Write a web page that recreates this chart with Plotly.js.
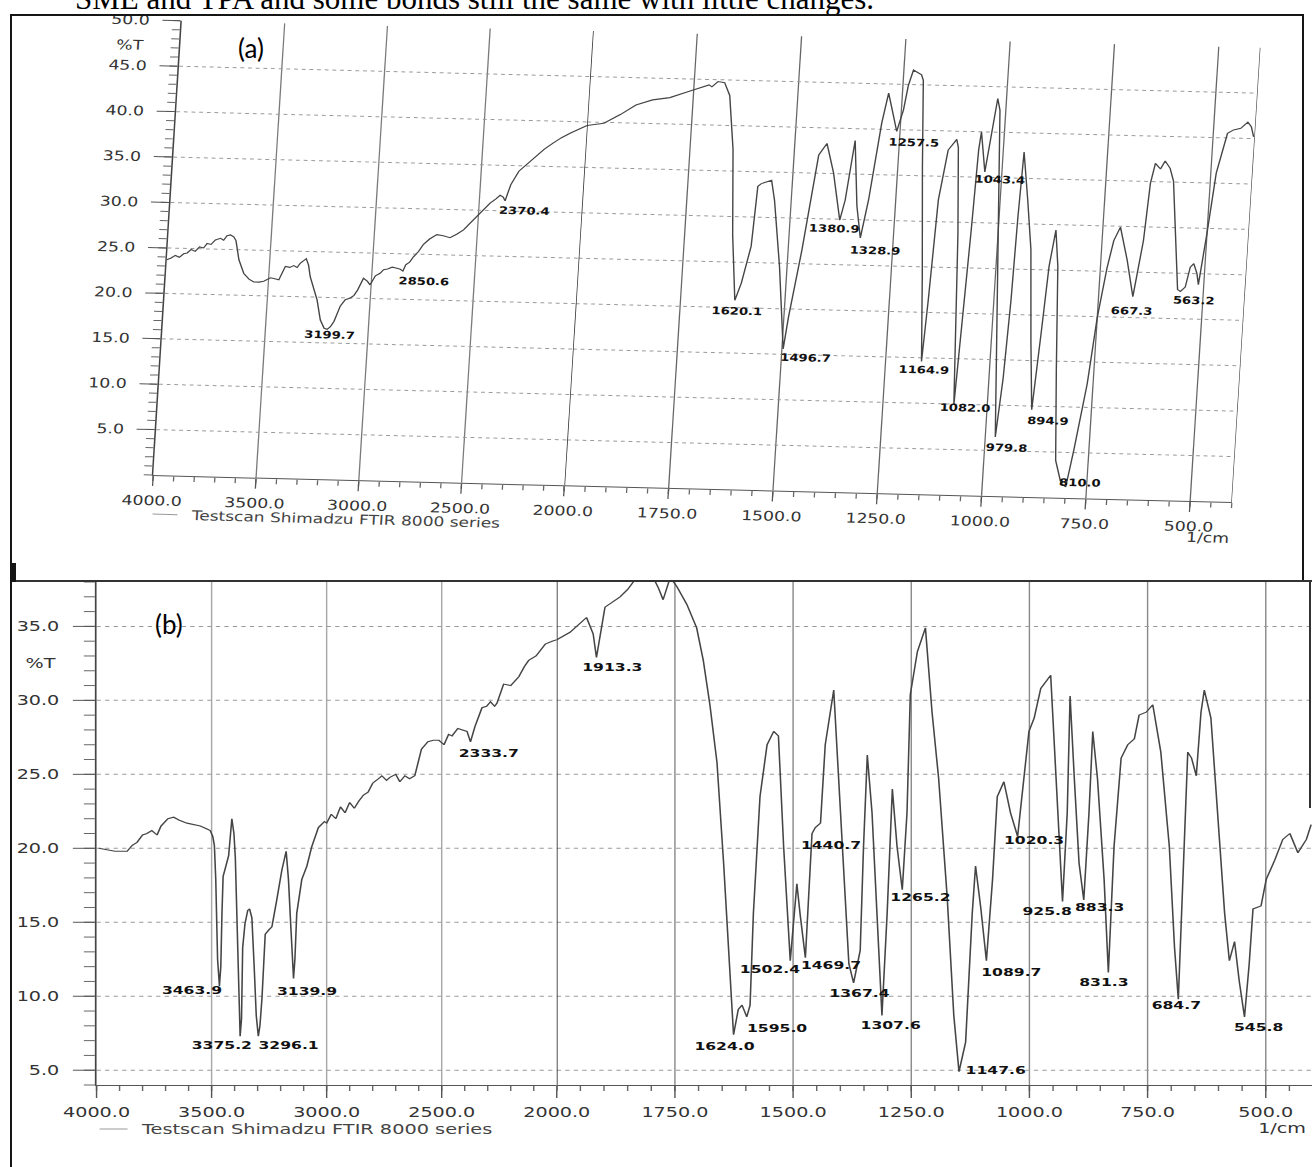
<!DOCTYPE html>
<html>
<head>
<meta charset="utf-8">
<script src="https://cdn.plot.ly/plotly-3.0.1.min.js"></script>
<style>
html,body{margin:0;padding:0;background:#fff;width:1312px;height:1167px;overflow:hidden;position:relative;}
.abs{position:absolute;}
#pa{position:absolute;left:0;top:0;transform-origin:0 0;}
#pb{position:absolute;left:0;top:582px;transform-origin:0 0;}
#pa .crisp, #pb .crisp, #pa path, #pb path{shape-rendering:geometricPrecision !important;}
.rule{position:absolute;background:#151515;}
.tag{position:absolute;font-family:Lato,'Open Sans',sans-serif;font-size:26px;color:#000;line-height:30px;white-space:nowrap;}
</style>
</head>
<body>
<div class="abs" style="left:75px;top:-16px;font-family:'Liberation Serif',serif;font-size:31px;line-height:30px;white-space:nowrap;color:#000;">SME and TPA and some bonds still the same with little changes.</div>
<div id="pa"></div>
<div id="pb"></div>
<div class="rule" style="left:10px;top:14px;width:2px;height:1153px;"></div>
<div class="rule" style="left:10px;top:14px;width:1294px;height:2px;"></div>
<div class="rule" style="left:1302px;top:14px;width:2px;height:568px;"></div>
<div class="rule" style="left:10px;top:580px;width:1302px;height:2px;background:#333;"></div>
<div class="rule" style="left:10px;top:563px;width:6px;height:19px;"></div>
<div class="rule" style="left:1309px;top:582px;width:2px;height:226px;background:#333;"></div>
<div class="tag" style="left:238px;top:33px;">(a)</div>
<div class="tag" style="left:155px;top:609px;">(b)</div>
<script>
// ---------------- data: panel (a) ----------------
const aHighWn = [4000,3980,3960,3940,3920,3903,3885,3865,3845,3825,3809,3790,3770,3746,3730,3715,3698,3682,3670,3650,3622,3595,3571,3545,3523,3491,3470,3450,3435,3422,3400,3382,3365,3350,3323,3310,3298,3278,3258,3236,3215,3200,3185,3169,3143,3121,3097,3080,3064,3039,3020,3005,2982,2960,2944,2925,2903,2880,2863,2850,2838,2820,2803,2780,2758,2730,2696,2665,2631,2600,2568,2540,2508,2475,2447,2420,2401,2385,2375,2365,2352,2317,2280,2235,2200,2158,2120,2080,2040,2000];
const aHighT  = [23.7,23.9,24.2,24.0,24.4,24.5,24.9,24.7,25.2,25.1,25.6,25.5,26.0,26.2,26.0,26.5,26.6,26.4,26.0,23.9,22.4,21.8,21.5,21.5,21.6,22.0,21.9,21.8,22.6,23.3,23.2,23.4,23.2,23.7,24.2,23.5,22.2,20.8,19.7,17.5,16.6,16.5,16.8,17.4,19.1,19.8,20.0,20.3,20.9,22.2,21.9,21.5,22.5,22.8,23.2,23.3,23.5,23.4,23.3,23.1,23.8,24.1,24.7,25.3,26.1,26.7,27.2,27.1,26.9,27.3,27.8,28.5,29.3,30.1,30.8,31.3,31.7,31.5,31.1,31.9,32.9,34.4,35.2,36.1,36.9,37.6,38.2,38.7,39.2,39.6];
const aLowWn = [2000,1960,1922,1886,1847,1806,1764,1740,1714,1707,1693,1677,1663,1647,1635,1620,1607,1589,1582,1574,1559,1550,1540,1518,1497,1489,1467,1451,1441,1423,1403,1381,1371,1356,1342,1329,1315,1295,1283,1268,1258,1245,1237,1227,1207,1202,1191,1175,1164,1157,1148,1132,1113,1108,1096,1080,1073,1065,1059,1055,1041,1031,1021,1014,999,985,976,966,959,955,950,934,919,905,893,882,873,862,852,840,828,812,800,786,764,750,734,722,708,687,668,651,643,634,621,611,598,588,576,562,555,544,535,527,518,513,500,487,466,452,435,419,410,403];
const aLowT  = [39.6,39.9,40.9,42.0,42.6,42.9,43.6,44.0,44.4,44.2,44.8,44.7,43.3,37.4,28.0,20.8,22.7,26.8,33.4,33.7,33.9,34.1,31.9,24.6,15.6,19.1,26.5,32.8,37.0,38.3,35.1,29.9,32.1,38.7,31.5,28.0,32.2,40.7,44.0,41.5,39.8,42.2,44.9,46.6,46.1,45.5,35.9,24.0,14.6,21.4,32.4,37.9,39.1,38.2,28.7,9.9,17.8,28.9,38.0,40.0,35.6,40.0,43.7,42.4,28.9,15.0,6.5,13.0,21.6,30.8,37.9,32.6,27.2,17.0,9.6,18.0,25.4,29.4,25.4,14.0,4.1,1.6,1.2,5.3,12.6,19.9,25.4,28.4,29.9,26.3,22.3,28.5,34.8,37.0,36.4,37.3,36.5,35.1,29.3,23.2,23.0,23.5,25.7,26.1,25.0,23.8,29.5,36.1,40.5,40.9,41.1,41.8,41.3,40.2];
const aPeakText = ['3199.7','2850.6','2370.4','1620.1','1496.7','1380.9','1328.9','1257.5','1164.9','1082.0','1043.4','979.8','894.9','810.0','667.3','563.2'];
const aPeakX = [3183,2743,2280,1612,1442,1391,1291,1214,1156,1052,1002,947,852,766,668,522];
const aPeakY = [15.9,22.1,30.1,19.7,14.7,29.0,26.7,38.7,13.7,9.7,34.8,5.4,8.5,1.8,20.8,22.1];
const aTickHigh = [4000,3500,3000,2500,2000];
const aTickLow = [1750,1500,1250,1000,750,500];
const aTickY = [5,10,15,20,25,30,35,40,45,50];

// ---------------- data: panel (b) ----------------
const bHighWn = [3990,3950,3920,3867,3845,3824,3800,3781,3760,3737,3720,3708,3690,3665,3640,3607,3575,3549,3520,3506,3495,3488,3482,3474,3466,3460,3455,3450,3438,3426,3412,3403,3397,3388,3382,3376,3370,3365,3355,3343,3335,3325,3315,3306,3297,3290,3281,3272,3267,3250,3238,3217,3195,3176,3166,3155,3144,3138,3130,3108,3086,3065,3050,3036,3010,3000,2980,2960,2940,2920,2900,2880,2860,2840,2820,2800,2783,2760,2740,2725,2700,2682,2660,2640,2617,2600,2588,2560,2537,2512,2490,2470,2455,2430,2411,2390,2375,2356,2325,2305,2288,2270,2260,2231,2200,2165,2140,2122,2090,2050,2020,2000];
const bHighT  = [20.0,19.9,19.8,19.8,20.2,20.4,20.9,21.0,21.2,20.9,21.5,21.7,22.0,22.1,21.9,21.7,21.6,21.5,21.3,21.2,20.8,20.2,17.9,12.5,10.7,12.0,15.6,18.1,18.8,19.5,22.0,21.0,19.4,15.0,11.0,7.3,8.5,13.3,14.9,15.8,15.9,15.3,12.0,8.7,7.3,8.0,9.9,13.3,14.2,14.5,14.7,16.5,18.5,19.8,17.9,14.5,11.2,12.5,15.6,17.9,18.8,20.1,20.8,21.4,21.8,21.7,22.3,22.0,22.8,22.4,23.1,22.7,23.2,23.6,23.8,24.4,24.6,24.9,24.6,24.8,25.0,24.5,24.9,24.7,24.9,26.0,26.7,27.2,27.3,27.3,27.0,27.7,27.6,28.1,28.0,27.9,27.2,28.2,29.5,29.6,29.9,29.6,29.8,31.1,31.0,31.6,32.3,32.7,33.0,33.8,34.0,34.1];
const bLowWn = [2000,1972,1937,1923,1916,1905,1898,1866,1850,1831,1815,1796,1785,1775,1760,1746,1725,1704,1690,1676,1661,1647,1637,1626,1616,1608,1598,1591,1584,1570,1555,1541,1531,1520,1506,1499,1492,1485,1474,1460,1453,1442,1432,1414,1404,1382,1372,1358,1351,1343,1333,1319,1312,1301,1290,1280,1269,1259,1252,1237,1220,1206,1192,1174,1160,1149,1135,1121,1114,1103,1091,1078,1068,1054,1040,1025,1011,1001,990,976,955,948,937,930,920,914,905,895,885,874,866,856,842,833,821,806,792,778,768,753,739,722,704,693,685,676,665,657,647,637,630,616,601,587,577,566,556,545,535,527,510,499,481,464,449,432,414,404];
const bLowT  = [34.1,34.6,35.6,34.5,32.9,34.9,36.3,37.0,37.5,38.3,38.5,38.3,37.6,36.8,38.3,37.7,36.5,34.9,32.7,29.7,25.8,19.0,13.3,7.4,9.1,9.4,8.6,9.4,15.6,23.5,27.0,27.9,27.6,20.1,12.4,15.0,17.6,15.5,12.6,21.0,21.4,21.7,27.0,30.7,24.7,12.2,10.9,13.1,20.1,26.3,22.4,13.3,8.7,15.6,24.0,20.1,17.2,22.4,30.4,33.3,34.9,29.2,24.7,16.7,8.7,4.9,6.9,15.6,18.8,16.0,12.4,17.9,23.5,24.5,22.4,20.8,24.7,27.9,28.8,30.8,31.7,27.0,20.1,16.4,22.4,30.3,24.7,19.0,16.5,22.4,27.9,24.7,17.9,11.6,20.1,26.1,27.0,27.4,29.0,29.2,29.7,26.5,20.1,13.3,9.8,17.9,26.5,26.1,24.9,29.2,30.7,28.8,22.4,15.6,12.4,13.7,11.0,8.6,12.2,15.9,16.1,17.9,19.2,20.6,21.0,19.7,20.6,21.6];
const bPeakText = ['3463.9','3375.2','3296.1','3139.9','2333.7','1913.3','1624.0','1595.0','1502.4','1469.7','1440.7','1367.4','1307.6','1265.2','1147.6','1089.7','1020.3','925.8','883.3','831.3','684.7','545.8'];
const bPeakX = [3586,3458,3167,3089,2296,1883,1644,1534,1548,1419,1419,1360,1292,1230,1069,1040,991,961,851,842,688,516];
const bPeakY = [10.4,6.7,6.7,10.3,26.4,32.2,6.6,7.8,11.8,12.1,20.2,10.2,8.0,16.7,5.0,11.6,20.5,15.7,16.0,10.9,9.4,7.9];
const bTickHigh = [4000,3500,3000,2500,2000];
const bTickLow = [1750,1500,1250,1000,750,500];
const bTickY = [5,10,15,20,25,30,35];

const seriesName = 'Testscan Shimadzu FTIR 8000 series';
const unitText = '1/cm';
const yUnitText = '%T';

// ---------------- styling helpers ----------------
const FONT = 'DejaVu Sans';
const LINE = {color:'#454545', width:1.1};
const YGRID = {showgrid:true, gridcolor:'#9a9a9a', gridwidth:1, griddash:'dot'};

function trace(x, y, xa, ya){
  return {x:x, y:y, xaxis:xa, yaxis:ya, type:'scatter', mode:'lines', line:LINE, hoverinfo:'skip', showlegend:false};
}
function xAxis(domain, range, tickvals, minorStep, o, gridcolor){
  return {domain:domain, range:range, anchor:'y', tickmode:'array', tickvals:tickvals, tickformat:'.1f',
    ticks:'outside', ticklen:o.len, tickwidth:1, tickcolor:'#555', ticklabelstandoff:o.standoff,
    tickfont:{family:FONT, size:o.size, color:'#333'},
    showgrid:true, gridcolor:gridcolor, gridwidth:o.grid, zeroline:false,
    showline:true, linecolor:'#555', linewidth:1,
    minor:{tickmode:'linear', tick0:0, dtick:minorStep, ticks:'outside', ticklen:5, tickwidth:1, tickcolor:'#666', showgrid:false}};
}
// main y axis: line, grid, major + minor tick marks
function yAxis(range, tickvals, s, o){
  return Object.assign({domain:[0,1], range:range, anchor:'x', tickmode:'array', tickvals:tickvals, showticklabels:false,
    ticks:'outside', ticklen:o.len/s, tickwidth:1, tickcolor:'#555', zeroline:false,
    showline:true, linecolor:'#444', linewidth:1.2,
    minor:{tickmode:'linear', tick0:0, dtick:1, ticks:'outside', ticklen:o.minor/s, tickwidth:1, tickcolor:'#666', showgrid:false}}, YGRID);
}
// companion y axis (same scale, carries the 4000-2000 trace) holding the tick labels a little further out
function yLabelAxis(range, tickvals, s, o){
  return Object.assign({domain:[0,1], range:range, matches:'y', anchor:'x', overlaying:'y', side:'left', tickmode:'array', tickvals:tickvals, tickformat:'.1f',
    ticks:'outside', ticklen:o.labelGap/s, tickwidth:1, tickcolor:'rgba(0,0,0,0)',
    tickfont:{family:FONT, size:o.size, color:'#333'},
    zeroline:false, showline:false}, YGRID);
}
function peakAnns(texts, xs, ys, size){
  return texts.map((t,i)=>({text:'<b>'+t+'</b>', x:xs[i], y:ys[i], xref: xs[i] >= 2000 ? 'x' : 'x2', yref:'y',
    showarrow:false, xanchor:'center', yanchor:'middle', font:{family:FONT, size:size, color:'#111'}}));
}
function frameShapes(legY, legX0, legX1){
  return [
    {type:'line', xref:'x2', x0:2000, x1:2000, yref:'paper', y0:0, y1:1, line:{color:'#333', width:1.2}},
    {type:'line', xref:'x2', x0:400, x1:400, yref:'paper', y0:0, y1:1, line:{color:'#444', width:1}},
    {type:'line', xref:'paper', x0:legX0, x1:legX1, yref:'paper', y0:legY, y1:legY, line:{color:'#999', width:1}}
  ];
}

// ---------------- panel (a): scanned page is slightly rotated / sheared ----------------
const SA = 1.28;                // horizontal stretch of the scan
const A_L = 153, A_R = 1234, A_T = 20, A_B = 475, A_H = 540, A_X2000 = 565;
const fa = (A_X2000 - A_L) / (A_R - A_L);
const xoA = {len:10, standoff:3, size:13.5, grid:1};
const yoA = {len:18, minor:8, labelGap:27.5, size:13.5};
const layoutA = {
  width: 1312/SA, height: A_H,
  margin:{l:A_L/SA, r:(1312-A_R)/SA, t:A_T, b:A_H-A_B, pad:0},
  paper_bgcolor:'rgba(0,0,0,0)', plot_bgcolor:'rgba(0,0,0,0)',
  showlegend:false,
  xaxis: xAxis([0,fa], [4000,2000], aTickHigh, 100, xoA, '#7a7a7a'),
  xaxis2: xAxis([fa,1], [2000,400], aTickLow, 50, xoA, '#666'),
  yaxis: yAxis([0,50], aTickY, SA, yoA),
  yaxis2: yLabelAxis([0,50], aTickY, SA, yoA),
  shapes: frameShapes(-(514-A_B)/(A_B-A_T), 0.0016, 0.0247),
  annotations: peakAnns(aPeakText, aPeakX, aPeakY, 10.3).concat([
    {text:yUnitText, xref:'paper', x:-0.0303, yref:'y', y:47.2, xanchor:'right', yanchor:'middle', showarrow:false, font:{family:FONT, size:13.5, color:'#333'}},
    {text:seriesName, xref:'paper', x:0.034, yref:'paper', y:-(514-A_B)/(A_B-A_T), xanchor:'left', yanchor:'middle', showarrow:false, font:{family:FONT, size:13.3, color:'#444'}},
    {text:unitText, xref:'paper', x:1.0019, yref:'paper', y:-(511-A_B)/(A_B-A_T), xanchor:'right', yanchor:'middle', showarrow:false, font:{family:FONT, size:13.5, color:'#333'}}
  ])
};
Plotly.newPlot('pa', [trace(aHighWn, aHighT, 'x', 'y2'), trace(aLowWn, aLowT, 'x2', 'y')], layoutA, {staticPlot:true, displayModeBar:false});
document.getElementById('pa').style.transform = 'matrix(' + [0.9984*SA, 0.02496*SA, -0.0629, 0.9984, 29.8, -3.0].join(',') + ')';

// ---------------- panel (b) ----------------
const SB = 1.42;
const B_L = 97, B_R = 1312, B_T = 0, B_B = 503, B_H = 585, B_X2000 = 557;
const fb = (B_X2000 - B_L) / (B_R - B_L);
const xoB = {len:12, standoff:3, size:13.5, grid:1};
const yoB = {len:22, minor:11, labelGap:32, size:13.5};
const layoutB = {
  width: 1312/SB, height: B_H,
  margin:{l:B_L/SB, r:0, t:B_T, b:B_H-B_B, pad:0},
  paper_bgcolor:'rgba(0,0,0,0)', plot_bgcolor:'rgba(0,0,0,0)',
  showlegend:false,
  xaxis: xAxis([0,fb], [4000,2000], bTickHigh, 100, xoB, '#a8a8a8'),
  xaxis2: xAxis([fb,1], [2000,402], bTickLow, 50, xoB, '#8a8a8a'),
  yaxis: yAxis([4,38], bTickY, SB, yoB),
  yaxis2: yLabelAxis([4,38], bTickY, SB, yoB),
  shapes: frameShapes(-(547-B_B)/(B_B-B_T), 0.0025, 0.0255),
  annotations: peakAnns(bPeakText, bPeakX, bPeakY, 11).concat([
    {text:yUnitText, xref:'paper', x:-0.0305, yref:'y', y:32.5, xanchor:'right', yanchor:'middle', showarrow:false, font:{family:FONT, size:13.5, color:'#333'}},
    {text:seriesName, xref:'paper', x:0.0337, yref:'paper', y:-(547-B_B)/(B_B-B_T), xanchor:'left', yanchor:'middle', showarrow:false, font:{family:FONT, size:13.6, color:'#444'}},
    {text:unitText, xref:'paper', x:0.998, yref:'paper', y:-(546-B_B)/(B_B-B_T), xanchor:'right', yanchor:'middle', showarrow:false, font:{family:FONT, size:13.5, color:'#333'}}
  ])
};
Plotly.newPlot('pb', [trace(bHighWn, bHighT, 'x', 'y2'), trace(bLowWn, bLowT, 'x2', 'y')], layoutB, {staticPlot:true, displayModeBar:false});
document.getElementById('pb').style.transform = 'scaleX(' + SB + ')';
</script>
</body>
</html>
